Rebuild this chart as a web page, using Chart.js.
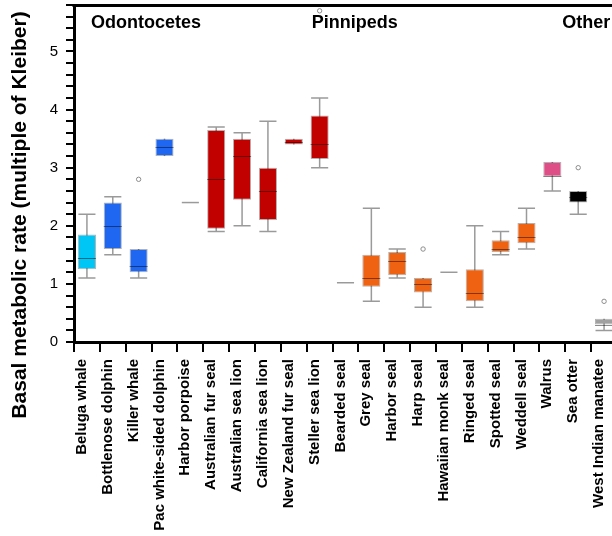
<!DOCTYPE html>
<html>
<head>
<meta charset="utf-8">
<script src="https://cdn.jsdelivr.net/npm/chart.js@4"></script>
<style>
  body { margin: 0; overflow: hidden; background: #fff; }
  #wrap { width: 620px; height: 536px; }
</style>
</head>
<body>
<div id="wrap"><canvas id="graph" width="620" height="536"></canvas></div>
<script>
// DATA
let species = ['Beluga whale', 'Bottlenose dolphin', 'Killer whale', 'Pac white-sided dolphin', 'Harbor porpoise',
  'Australian fur seal', 'Australian sea lion', 'California sea lion', 'New Zealand fur seal', 'Steller sea lion',
  'Bearded seal', 'Grey seal', 'Harbor seal', 'Harp seal', 'Hawaiian monk seal', 'Ringed seal', 'Spotted seal',
  'Weddell seal', 'Walrus', 'Sea otter', 'West Indian manatee'];
// whisker low / box low / median / box high / whisker high (null box = only one value)
let lowVals  = [1.1, 1.5, 1.1, 3.2, 2.4, 1.9, 2.0, 1.9, 3.4, 3.0, 1.02, 0.7, 1.1, 0.6, 1.2, 0.6, 1.5, 1.6, 2.6, 2.2, 0.2];
let q1Vals   = [1.25, 1.6, 1.2, 3.2, null, 1.95, 2.45, 2.1, 3.4, 3.15, null, 0.95, 1.15, 0.85, null, 0.7, 1.55, 1.7, 2.85, 2.4, 0.3];
let medVals  = [1.45, 2.0, 1.3, 3.35, 2.4, 2.8, 3.2, 2.6, 3.45, 3.4, 1.02, 1.1, 1.4, 1.0, 1.2, 0.85, 1.6, 1.8, 2.85, 2.5, 0.3];
let q3Vals   = [1.85, 2.4, 1.6, 3.5, null, 3.65, 3.5, 3.0, 3.5, 3.9, null, 1.5, 1.55, 1.1, null, 1.25, 1.75, 2.05, 3.1, 2.6, 0.4];
let highVals = [2.2, 2.5, 1.6, 3.5, 2.4, 3.7, 3.6, 3.8, 3.5, 4.2, 1.02, 2.3, 1.6, 1.1, 1.2, 2.0, 1.9, 2.3, 3.1, 2.6, 0.4];
let outliers = [[], [], [2.8], [], [], [], [], [], [], [5.7], [], [], [], [1.6], [], [], [], [], [], [3.0], [0.7]];
let groupNames = ['Odontocetes', 'Pinnipeds', 'Other'];
let yTicks = [0, 1, 2, 3, 4, 5];

// colours by group
let boxColors = ['#00c6f6', '#1f66f0', '#1f66f0', '#1f66f0', '#999999',
  '#c10000', '#c10000', '#c10000', '#c10000', '#c10000',
  '#ee6212', '#ee6212', '#ee6212', '#ee6212', '#ee6212', '#ee6212', '#ee6212', '#ee6212',
  '#de4f87', '#000000', '#a0a0a0'];

const FONT = '"Liberation Sans", Arial, Helvetica, sans-serif';
Chart.defaults.font.family = FONT;
Chart.defaults.color = '#000';

// boxes = floating bars
let boxData = species.map((s, i) => q1Vals[i] == null ? null : [q1Vals[i], q3Vals[i]]);

// whiskers, medians, outliers, texts
const boxParts = {
  id: 'boxParts',
  beforeDatasetsDraw(chart) {
    let ctx = chart.ctx;
    let x = chart.scales.x, y = chart.scales.y;
    let bars = chart.getDatasetMeta(0).data;
    let w = bars[0].width;
    ctx.save();
    ctx.strokeStyle = '#9a9a9a';
    ctx.lineWidth = 1.5;
    for (let i = 0; i < species.length; i++) {
      let cx = x.getPixelForValue(i);
      let half = w / 2 - 0.5;
      ctx.beginPath();
      if (q1Vals[i] == null) {
        // single value
        ctx.moveTo(cx - half, y.getPixelForValue(medVals[i]));
        ctx.lineTo(cx + half, y.getPixelForValue(medVals[i]));
      } else {
        ctx.moveTo(cx, y.getPixelForValue(lowVals[i]));
        ctx.lineTo(cx, y.getPixelForValue(highVals[i]));
        if (lowVals[i] < q1Vals[i]) {
          ctx.moveTo(cx - half, y.getPixelForValue(lowVals[i]));
          ctx.lineTo(cx + half, y.getPixelForValue(lowVals[i]));
        }
        if (highVals[i] > q3Vals[i]) {
          ctx.moveTo(cx - half, y.getPixelForValue(highVals[i]));
          ctx.lineTo(cx + half, y.getPixelForValue(highVals[i]));
        }
      }
      ctx.stroke();
    }
    ctx.restore();
  },
  afterDatasetsDraw(chart) {
    let ctx = chart.ctx;
    let area = chart.chartArea;
    let x = chart.scales.x, y = chart.scales.y;
    let bars = chart.getDatasetMeta(0).data;
    let w = bars[0].width;
    ctx.save();
    // medians
    ctx.strokeStyle = 'rgba(0,0,0,0.45)';
    ctx.lineWidth = 1;
    for (let i = 0; i < species.length; i++) {
      if (q1Vals[i] == null) continue;
      let cx = x.getPixelForValue(i);
      let py = Math.round(y.getPixelForValue(medVals[i])) + 0.5;
      ctx.beginPath();
      ctx.moveTo(cx - w / 2, py);
      ctx.lineTo(cx + w / 2, py);
      ctx.stroke();
    }
    // outliers
    ctx.strokeStyle = '#8c8c8c';
    for (let i = 0; i < species.length; i++) {
      for (let v of outliers[i]) {
        ctx.beginPath();
        ctx.arc(x.getPixelForValue(i), y.getPixelForValue(v), 2.2, 0, Math.PI * 2);
        ctx.stroke();
      }
    }
    // top frame line
    ctx.strokeStyle = '#000';
    ctx.lineWidth = 3;
    ctx.beginPath();
    ctx.moveTo(area.left - 1.5, area.top + 0.5);
    ctx.lineTo(area.right + 1.5, area.top + 0.5);
    ctx.stroke();
    // group names
    ctx.fillStyle = '#000';
    ctx.font = 'bold 18px ' + FONT;
    ctx.textBaseline = 'middle';
    ctx.textAlign = 'left';
    ctx.fillText(groupNames[0], x.getPixelForValue(0) + 4, 23);
    ctx.fillText(groupNames[1], x.getPixelForValue(9) - 8, 23);
    ctx.fillText(groupNames[2], x.getPixelForValue(19) - 16, 23);
    // y title
    ctx.translate(20, 215);
    ctx.rotate(-Math.PI / 2);
    ctx.textAlign = 'center';
    ctx.font = 'bold 21px ' + FONT;
    ctx.fillText('Basal metabolic rate (multiple of Kleiber)', 0, 0);
    ctx.restore();
  }
};

let ctx = document.getElementById('graph').getContext('2d');
let graph = new Chart(ctx, {
  type: 'bar',
  data: {
    labels: species,
    datasets: [{
      data: boxData,
      backgroundColor: boxColors,
      borderColor: 'rgba(0,0,0,0.3)',
      borderWidth: 1,
      borderSkipped: false,
      barPercentage: 0.7,
      categoryPercentage: 1.0
    }]
  },
  options: {
    responsive: false,
    animation: false,
    layout: { padding: { left: 0, right: 3, top: 5, bottom: 0 } },
    plugins: { legend: { display: false }, tooltip: { enabled: false } },
    scales: {
      x: {
        grid: { display: true, drawOnChartArea: false, offset: true, tickLength: 10, color: '#000', lineWidth: 2 },
        border: { display: true, color: '#000', width: 3 },
        ticks: { autoSkip: false, maxRotation: 90, minRotation: 90, padding: 7, labelOffset: -5, font: { size: 15, weight: 'bold' } },
        afterFit: s => { s.height = 194; s.paddingLeft = 0; s.paddingRight = 0; }
      },
      y: {
        min: 0,
        max: 5.8,
        grid: { display: true, drawOnChartArea: false, tickLength: 8, color: '#000', lineWidth: 2 },
        border: { display: true, color: '#000', width: 3 },
        ticks: {
          stepSize: 0.2,
          autoSkip: false,
          padding: 8,
          font: { size: 15 },
          callback: v => {
            let r = Math.round(v);
            return (Math.abs(v - r) < 1e-6 && yTicks.includes(r)) ? String(r) : '';
          }
        },
        afterFit: s => { s.width = 74; s.paddingTop = 0; s.paddingBottom = 0; }
      }
    }
  },
  plugins: [boxParts]
});
</script>
</body>
</html>
